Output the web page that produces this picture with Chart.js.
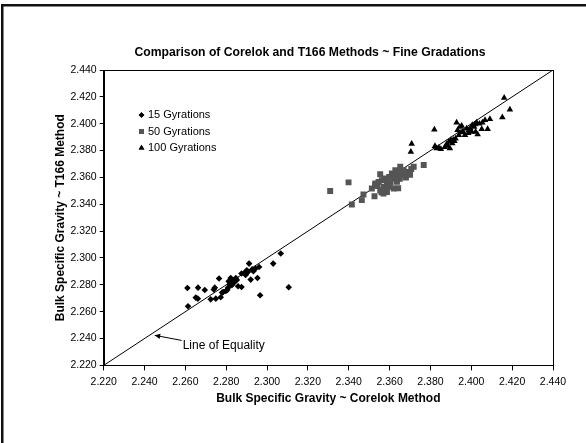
<!DOCTYPE html>
<html>
<head>
    <title>Corelok vs T166 ~ Fine Gradations</title>
    <style>
        /* fixed size page, chart fills it */
        html, body { margin: 0; padding: 0; background: #fff; }
        .chart-container { width: 586px; height: 443px; position: relative; }
    </style>
    <script src="https://cdn.jsdelivr.net/npm/chart.js"></script>
</head>
<body>
    <div class="chart-container">
        <canvas id="myChart"></canvas>
    </div>

    <script>
        // axis ticks (both axes use the same range)
        const xTicks = [2.22, 2.24, 2.26, 2.28, 2.30, 2.32, 2.34, 2.36, 2.38, 2.40, 2.42, 2.44];
        const yTicks = [2.22, 2.24, 2.26, 2.28, 2.30, 2.32, 2.34, 2.36, 2.38, 2.40, 2.42, 2.44];

        const seriesNames = ['15 Gyrations', '50 Gyrations', '100 Gyrations'];

        // 15 gyrations (diamonds)
        const g15X = [2.2610, 2.2613, 2.2662, 2.2651, 2.2661, 2.2695, 2.2724, 2.2749, 2.2739, 2.2744,
                      2.2765, 2.2773, 2.2785, 2.2798, 2.2809, 2.2812, 2.2822, 2.2831, 2.2839, 2.2847,
                      2.2858, 2.2875, 2.2875, 2.2891, 2.2901, 2.2912, 2.2920, 2.2933, 2.2943, 2.2953,
                      2.2961, 2.2966, 2.3030, 2.3067, 2.3106, 2.2805, 2.2818, 2.2826, 2.2835, 2.2852,
                      2.2895, 2.2906, 2.2927, 2.2780, 2.2828];
        const g15Y = [2.2776, 2.2640, 2.2779, 2.2705, 2.2697, 2.2762, 2.2692, 2.2697, 2.2765, 2.2779,
                      2.2847, 2.2707, 2.2747, 2.2754, 2.2779, 2.2826, 2.2851, 2.2829, 2.2821, 2.2851,
                      2.2789, 2.2784, 2.2884, 2.2891, 2.2908, 2.2958, 2.2839, 2.2901, 2.2921, 2.2851,
                      2.2933, 2.2722, 2.2958, 2.3033, 2.2782, 2.2762, 2.2805, 2.2838, 2.2812, 2.2836,
                      2.2874, 2.2895, 2.2915, 2.2742, 2.2798];

        // 50 gyrations (squares)
        const g50X = [2.3309, 2.3399, 2.3415, 2.3464, 2.3472, 2.3526, 2.3513, 2.3529, 2.3554, 2.3546,
                      2.3562, 2.3575, 2.3554, 2.3570, 2.3587, 2.3595, 2.3587, 2.3598, 2.3611, 2.3620,
                      2.3628, 2.3641, 2.3652, 2.3636, 2.3647, 2.3661, 2.3669, 2.3677, 2.3693, 2.3706,
                      2.3718, 2.3767, 2.3570, 2.3620, 2.3642, 2.3540, 2.3560, 2.3605, 2.3650, 2.3680,
                      2.3700, 2.3625, 2.3530];
        const g50Y = [2.3499, 2.3563, 2.3399, 2.3431, 2.3473, 2.3460, 2.3518, 2.3542, 2.3624, 2.3567,
                      2.3580, 2.3592, 2.3505, 2.3480, 2.3492, 2.3530, 2.3567, 2.3604, 2.3629, 2.3592,
                      2.3654, 2.3641, 2.3679, 2.3567, 2.3604, 2.3617, 2.3654, 2.3629, 2.3641, 2.3662,
                      2.3679, 2.3692, 2.3530, 2.3518, 2.3520, 2.3535, 2.3490, 2.3560, 2.3590, 2.3600,
                      2.3620, 2.3610, 2.3555];

        // 100 gyrations (triangles)
        const g100X = [2.3704, 2.3708, 2.3819, 2.3822, 2.3830, 2.3841, 2.3851, 2.3884, 2.3890, 2.3900,
                       2.3895, 2.3907, 2.3917, 2.3923, 2.3928, 2.3933, 2.3944, 2.3953, 2.3939, 2.3960,
                       2.3969, 2.3977, 2.3988, 2.4002, 2.4014, 2.4026, 2.4021, 2.4031, 2.4054, 2.4067,
                       2.4091, 2.4051, 2.4080, 2.4152, 2.4161, 2.4189, 2.3880, 2.3912, 2.3950, 2.3995,
                       2.4005, 2.4018, 2.4040, 2.3870, 2.3985];
        const g100Y = [2.3791, 2.3850, 2.3957, 2.3833, 2.3816, 2.3821, 2.3811, 2.3835, 2.3865, 2.3878,
                       2.3816, 2.3853, 2.3870, 2.3890, 2.4009, 2.3952, 2.3977, 2.3984, 2.3915, 2.3940,
                       2.3915, 2.3964, 2.3952, 2.3940, 2.3977, 2.4009, 2.3940, 2.3920, 2.4009, 2.4027,
                       2.4034, 2.3960, 2.3960, 2.4047, 2.4193, 2.4106, 2.3850, 2.3880, 2.3935, 2.3965,
                       2.3990, 2.3995, 2.4000, 2.3825, 2.3930];

        // line of equality end points
        const equalityX = [2.22, 2.44];
        const equalityY = [2.22, 2.44];

        const toPoints = (xs, ys) => xs.map((x, i) => ({ x: x, y: ys[i] }));

        Chart.defaults.font.family = '"Liberation Sans", Arial, sans-serif';
        Chart.defaults.color = '#000';

        const markerStyles = [
            { style: 'rectRot', radius: 3.3, color: '#000' },
            { style: 'rect', radius: 4.2, color: '#555' },
            { style: 'triangle', radius: 3.8, color: '#000' }
        ];

        // extras: frame, plot box, title, in-plot legend and the arrow label
        const decorations = {
            id: 'decorations',
            afterDraw(chart) {
                const c = chart.ctx;
                const a = chart.chartArea;
                const xs = chart.scales.x, ys = chart.scales.y;
                c.save();

                // outer frame (left + top edges)
                c.fillStyle = '#111';
                c.fillRect(1, 4, 2.5, 439);
                c.fillRect(1, 4, 585, 2.5);

                // plot box
                c.strokeStyle = '#000';
                c.lineWidth = 1;
                c.strokeRect(Math.round(a.left) + 0.5, Math.round(a.top) + 0.5,
                             Math.round(a.right - a.left), Math.round(a.bottom - a.top));

                // title
                c.fillStyle = '#000';
                c.font = 'bold 12.2px "Liberation Sans", Arial, sans-serif';
                c.textAlign = 'center';
                c.textBaseline = 'middle';
                c.fillText('Comparison of Corelok and T166 Methods ~ Fine Gradations', 310, 53);

                // legend
                c.font = '11px "Liberation Sans", Arial, sans-serif';
                c.textAlign = 'left';
                seriesNames.forEach((name, i) => {
                    const y = 115 + i * 16.5;
                    const m = markerStyles[i];
                    c.fillStyle = m.color;
                    Chart.helpers.drawPoint(c, { pointStyle: m.style, radius: m.radius * 0.85, borderWidth: 0 }, 141.5, y);
                    c.fill();
                    c.fillStyle = '#000';
                    c.fillText(name, 148, y);
                });

                // "Line of Equality" with arrow
                const hx = xs.getPixelForValue(2.2450), hy = ys.getPixelForValue(2.2424);
                const tx = xs.getPixelForValue(2.2582), ty = ys.getPixelForValue(2.2386);
                c.strokeStyle = '#000';
                c.beginPath();
                c.moveTo(tx, ty);
                c.lineTo(hx, hy);
                c.stroke();
                const ang = Math.atan2(hy - ty, hx - tx);
                c.beginPath();
                c.moveTo(hx, hy);
                c.lineTo(hx - 6 * Math.cos(ang - 0.45), hy - 6 * Math.sin(ang - 0.45));
                c.lineTo(hx - 6 * Math.cos(ang + 0.45), hy - 6 * Math.sin(ang + 0.45));
                c.closePath();
                c.fillStyle = '#000';
                c.fill();
                c.font = '12px "Liberation Sans", Arial, sans-serif';
                c.fillText('Line of Equality', tx + 1, ys.getPixelForValue(2.2344));

                c.restore();
            }
        };

        const seriesData = [toPoints(g15X, g15Y), toPoints(g50X, g50Y), toPoints(g100X, g100Y)];

        const datasets = seriesNames.map((name, i) => ({
            label: name,
            data: seriesData[i],
            pointStyle: markerStyles[i].style,
            pointRadius: markerStyles[i].radius,
            pointBackgroundColor: markerStyles[i].color,
            pointBorderWidth: 0,
            showLine: false
        }));
        datasets.push({
            label: 'Line of Equality',
            data: toPoints(equalityX, equalityY),
            showLine: true,
            borderColor: '#000',
            borderWidth: 1,
            pointRadius: 0
        });

        const axisTicks = (vals) => (scale) => { scale.ticks = vals.map(v => ({ value: v })); };

        const ctx = document.getElementById('myChart').getContext('2d');
        const myChart = new Chart(ctx, {
            type: 'scatter',
            data: { datasets: datasets },
            options: {
                responsive: true,
                maintainAspectRatio: false,
                animation: false,
                layout: { padding: { left: 49, right: 33, top: 70, bottom: 36 } },
                plugins: {
                    legend: { display: false },
                    tooltip: { enabled: false }
                },
                scales: {
                    x: {
                        type: 'linear',
                        min: 2.22,
                        max: 2.44,
                        afterBuildTicks: axisTicks(xTicks),
                        grid: { display: true, drawOnChartArea: false, tickLength: 5, color: '#000' },
                        border: { display: true, color: '#000', width: 1 },
                        ticks: {
                            font: { size: 10.5 },
                            padding: 5,
                            maxRotation: 0,
                            callback: v => Number(v).toFixed(3)
                        },
                        title: {
                            display: true,
                            text: 'Bulk Specific Gravity ~ Corelok Method',
                            font: { size: 12, weight: 'bold', lineHeight: 1.0 },
                            padding: { top: 0, bottom: 2 }
                        }
                    },
                    y: {
                        type: 'linear',
                        min: 2.22,
                        max: 2.44,
                        afterBuildTicks: axisTicks(yTicks),
                        grid: { display: true, drawOnChartArea: false, tickLength: 4, color: '#000' },
                        border: { display: true, color: '#000', width: 1 },
                        ticks: {
                            font: { size: 10.5 },
                            padding: 3,
                            callback: v => Number(v).toFixed(3)
                        },
                        title: {
                            display: true,
                            text: 'Bulk Specific Gravity ~ T166 Method',
                            font: { size: 12, weight: 'bold' },
                            padding: { top: 4, bottom: 0 }
                        }
                    }
                }
            },
            plugins: [decorations]
        });
    </script>
</body>
</html>
